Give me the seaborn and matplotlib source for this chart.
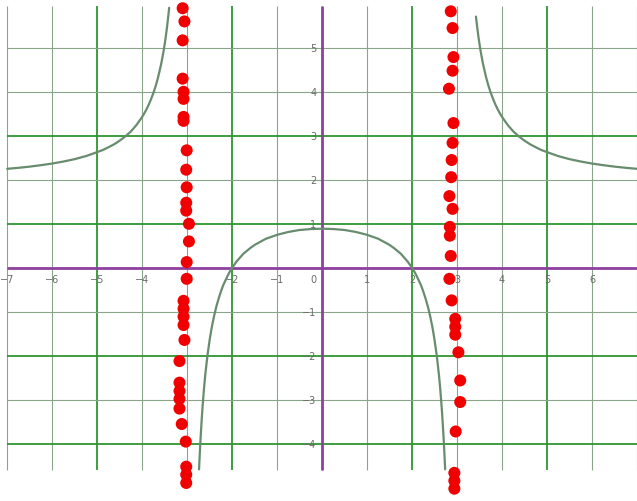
import pandas as pd
import matplotlib
matplotlib.use("Agg")
import matplotlib.pyplot as plt
import seaborn as sns

sns.set_style("white")

# ------------------------------------------
# Curve points (three branches)
# ------------------------------------------
left_x = [-7.0, -6.75, -6.5, -6.25, -6.0, -5.75, -5.5, -5.25, -5.0, -4.875,
          -4.75, -4.625, -4.5, -4.375, -4.25, -4.125, -4.0, -3.95, -3.9, -3.85,
          -3.8, -3.75, -3.7, -3.65, -3.6, -3.575, -3.55, -3.525, -3.5, -3.475,
          -3.45, -3.42, -3.4]
left_y = [2.25, 2.273, 2.30, 2.333, 2.37, 2.416, 2.47, 2.539, 2.63, 2.677,
          2.74, 2.807, 2.89, 2.986, 3.10, 3.248, 3.43, 3.515, 3.61, 3.717,
          3.84, 3.975, 4.13, 4.313, 4.53, 4.645, 4.78, 4.919, 5.08, 5.251,
          5.45, 5.71, 5.91]

mid_x = [-2.735, -2.72, -2.7, -2.675, -2.65, -2.625, -2.6, -2.55, -2.5, -2.45,
         -2.4, -2.35, -2.3, -2.25, -2.2, -2.1, -2.05, -2.0, -1.9, -1.75, -1.6,
         -1.5, -1.25, -1.0, -0.75, -0.5, -0.25, 0.0, 0.25, 0.5, 0.75, 1.0,
         1.25, 1.5, 1.6, 1.75, 1.9, 2.0, 2.05, 2.1, 2.2, 2.25, 2.3, 2.35, 2.4,
         2.45, 2.5, 2.55, 2.6, 2.625, 2.65, 2.675, 2.7, 2.72, 2.735]
mid_y = [-4.58, -4.244, -3.85, -3.422, -3.06, -2.741, -2.46, -2.004, -1.64,
         -1.336, -1.09, -0.876, -0.70, -0.540, -0.40, -0.18, -0.084, 0.0,
         0.145, 0.32, 0.447, 0.52, 0.66, 0.75, 0.815, 0.86, 0.881, 0.89, 0.881,
         0.86, 0.815, 0.75, 0.66, 0.52, 0.447, 0.32, 0.145, 0.0, -0.084, -0.18,
         -0.40, -0.540, -0.70, -0.876, -1.09, -1.336, -1.64, -2.004, -2.46,
         -2.741, -3.06, -3.422, -3.85, -4.244, -4.58]

right_x = [3.42, 3.45, 3.475, 3.5, 3.525, 3.55, 3.575, 3.6, 3.65, 3.7, 3.75,
           3.8, 3.85, 3.9, 3.95, 4.0, 4.125, 4.25, 4.375, 4.5, 4.625, 4.75,
           4.875, 5.0, 5.25, 5.5, 5.75, 6.0, 6.25, 6.5, 6.75, 7.0]
right_y = [5.71, 5.45, 5.251, 5.08, 4.919, 4.78, 4.645, 4.53, 4.313, 4.13,
           3.975, 3.84, 3.717, 3.61, 3.515, 3.43, 3.248, 3.10, 2.986, 2.89,
           2.807, 2.74, 2.677, 2.63, 2.539, 2.47, 2.416, 2.37, 2.333, 2.30,
           2.273, 2.25]

# ------------------------------------------
# Red hand-drawn dots near x = -3 and x = 3
# ------------------------------------------
dots_left_x = [-3.10, -3.06, -3.10, -3.10, -3.08, -3.08, -3.08, -3.08, -3.01,
               -3.02, -3.01, -3.02, -3.02, -2.96, -2.96, -3.01, -3.01, -3.08,
               -3.08, -3.08, -3.08, -3.06, -3.17, -3.17, -3.17, -3.17, -3.17,
               -3.12, -3.03, -3.02, -3.02, -3.02]
dots_left_y = [5.90, 5.60, 5.17, 4.30, 4.00, 3.84, 3.43, 3.34, 2.67, 2.23,
               1.83, 1.48, 1.30, 1.00, 0.60, 0.13, -0.25, -0.75, -0.93, -1.11,
               -1.30, -1.64, -2.12, -2.61, -2.80, -2.98, -3.20, -3.55, -3.95,
               -4.52, -4.70, -4.89]

dots_right_x = [2.86, 2.90, 2.92, 2.90, 2.82, 2.92, 2.90, 2.88, 2.87, 2.83,
                2.90, 2.84, 2.84, 2.86, 2.83, 2.88, 2.96, 2.96, 2.96, 3.03,
                3.07, 3.07, 2.97, 2.94, 2.94, 2.94]
dots_right_y = [5.83, 5.45, 4.79, 4.48, 4.07, 3.29, 2.84, 2.45, 2.06, 1.63,
                1.34, 0.93, 0.73, 0.27, -0.25, -0.74, -1.16, -1.34, -1.52,
                -1.92, -2.56, -3.05, -3.72, -4.66, -4.84, -5.02]

x_ticks = [-7, -6, -5, -4, -3, -2, -1, 1, 2, 3, 4, 5, 6]
y_ticks = [5, 4, 3, 2, 1, -1, -2, -3, -4]
bright_x = [-5, -2, 2, 5]
bright_y = [3, 1, -2, -4]

fig = plt.figure(figsize=(6.37, 5.02), dpi=100)
ax = fig.add_axes([0, 0, 1, 1])
ax.axis("off")

# grid
grid_top, grid_bottom, grid_left = 5.95, -4.6, -7.0
for gx in range(-7, 8):
    bright = gx in bright_x
    ax.vlines(gx, grid_bottom, grid_top, color="#2f952f" if bright else "#8aa58a",
              lw=1.3 if bright else 0.8, zorder=1)
for gy in range(-4, 6):
    bright = gy in bright_y
    ax.hlines(gy, grid_left, 7.0, color="#2f952f" if bright else "#8aa58a",
              lw=1.3 if bright else 0.8, zorder=1)

# axes
ax.hlines(0, grid_left, 7.0, color="#8e3fa0", lw=2.0, zorder=2)
ax.vlines(0, grid_bottom, grid_top, color="#8e3fa0", lw=2.0, zorder=2)

# tick labels
for t in x_ticks:
    ax.text(t, -0.25, f"{t}".replace("-", "\u2212"), ha="center", va="center",
            fontsize=7, color="#6a6a6a", zorder=3)
for t in y_ticks:
    ax.text(-0.13, t, f"{t}".replace("-", "\u2212"), ha="right", va="center",
            fontsize=7, color="#6a6a6a", zorder=3)
ax.text(-0.13, -0.25, "0", ha="right", va="center", fontsize=7, color="#6a6a6a")

# curve
for bx, by in [(left_x, left_y), (mid_x, mid_y), (right_x, right_y)]:
    branch = pd.DataFrame({"x": bx, "y": by})
    sns.lineplot(data=branch, x="x", y="y", ax=ax, sort=False, estimator=None,
                 color="#678c6e", lw=1.6, zorder=4)

# dots
dots = pd.DataFrame({"x": dots_left_x + dots_right_x,
                     "y": dots_left_y + dots_right_y})
sns.scatterplot(data=dots, x="x", y="y", ax=ax, color="#f00000", s=75,
                edgecolor="none", zorder=5)

ax.set_xlim(-7.16, 7.0)
ax.set_ylim(-5.30, 6.11)
fig.savefig("out.png", dpi=100)
